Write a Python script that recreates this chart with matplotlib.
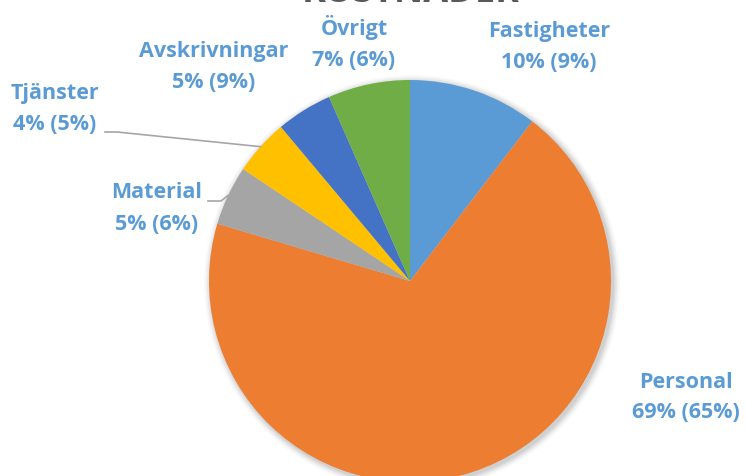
import matplotlib
matplotlib.use('Agg')
import matplotlib.pyplot as plt
import numpy as np

# kostnader per kategori, andel i procent (medurs från kl 12)
categories = ['Fastigheter', 'Personal', 'Material', 'Tjänster', 'Avskrivningar', 'Övrigt']
values = [10.4, 69.2, 4.8, 4.5, 4.5, 6.6]
pct_labels = ['10% (9%)', '69% (65%)', '5% (6%)', '4% (5%)', '5% (9%)', '7% (6%)']
colors = ['#5B9BD5', '#ED7D31', '#A5A5A5', '#FFC000', '#4472C4', '#70AD47']

W, H = 745, 476
fig = plt.figure(figsize=(W / 100, H / 100), dpi=100)
ax = fig.add_axes([0, 0, 1, 1])

cx, cy, r = 410, H - 281, 201

# soft shadow behind the pie
for i, a in enumerate([0.05, 0.05, 0.04, 0.03, 0.02]):
    ax.add_patch(plt.Circle((cx + 2, cy - 2), r + 1 + i * 1.5, color='black', alpha=a, lw=0, zorder=1))

wedges, _ = ax.pie(values, colors=colors, startangle=90, counterclock=False,
                   center=(cx, cy), radius=r, frame=True,
                   wedgeprops=dict(linewidth=0, zorder=2))
ax.set_xlim(0, W)
ax.set_ylim(0, H)
ax.set_aspect('equal')
ax.axis('off')

label_color = '#5B9BD5'
font = ['Open Sans', 'DejaVu Sans']
# label positions (image px, y from top): name line and percent line
label_pos = {
    'Fastigheter': (549, 32, 63),
    'Personal': (686, 383, 413),
    'Material': (157, 193, 225),
    'Tjänster': (55, 93, 125),
    'Avskrivningar': (214, 52, 83),
    'Övrigt': (354, 27, 60),
}
for cat, pl in zip(categories, pct_labels):
    x, y1, y2 = label_pos[cat]
    ax.text(x, H - y1, cat, ha='center', va='center', fontsize=15.5,
            fontweight='bold', color=label_color, family=font, zorder=5)
    ax.text(x, H - y2, pl, ha='center', va='center', fontsize=15.5,
            fontweight='bold', color=label_color, family=font, zorder=5)

# leader lines for the small slices
def edge_point(w):
    ang = np.deg2rad((w.theta1 + w.theta2) / 2)
    return cx + r * np.cos(ang), cy + r * np.sin(ang)

ex, ey = edge_point(wedges[3])
ax.plot([105, 117, ex], [H - 132, H - 132, ey], color='#A6A6A6', lw=1.2, zorder=4)
ex, ey = edge_point(wedges[2])
ax.plot([208, 221, ex], [H - 201, H - 201, ey], color='#A6A6A6', lw=1.2, zorder=4)

# title, cut off at the top edge
ax.text(411, H - 2, 'KOSTNADER', ha='center', va='baseline', fontsize=26,
        fontweight='bold', color='#595959', family=font, zorder=5)

fig.savefig('out.png', dpi=100)
